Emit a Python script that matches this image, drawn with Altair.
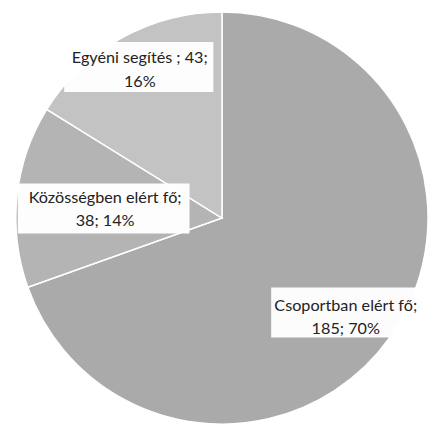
import altair as alt
import pandas as pd

# --- data ---
categories = ["Csoportban elért fő", "Közösségben elért fő", "Egyéni segítés "]
values = [185, 38, 43]
colors = ["#aaaaaa", "#b4b4b4", "#c3c3c3"]
break_after_value = [False, False, True]

# --- layout (not data) ---
label_radius_frac = [0.77, 0.57, 0.82]
text_dx = [-6, 0, 0]
text_dy = [8.5, 4, 0]
box_width = [170, 175, 152]
box_dx = [3, -1.5, -1]
box_dy = [3, 3, -3.5]
CX, CY, R = 218, 210, 210
BOX_H = 51
LINE_H = 24

total = sum(values)
labels = []
for c, v, b in zip(categories, values, break_after_value):
    pct = round(v / total * 100)
    if b:
        labels.append(f"{c}; {v};\n{pct}%")
    else:
        labels.append(f"{c};\n{v}; {pct}%")

df = pd.DataFrame({
    "cat": categories,
    "value": values,
    "idx": list(range(len(values))),
    "label": labels,
    "rf": label_radius_frac,
    "tdx": text_dx,
    "tdy": text_dy,
    "bw": box_width,
    "bdx": box_dx,
    "bdy": box_dy,
})

base = alt.Chart(df)

pie = base.mark_arc(outerRadius=R, stroke="white", strokeWidth=1.5).encode(
    theta=alt.Theta("value:Q", stack=True),
    order=alt.Order("idx:Q", sort="ascending"),
    color=alt.Color("cat:N", scale=alt.Scale(domain=categories, range=colors), legend=None),
    x=alt.value(CX),
    y=alt.value(CY),
)

pos = (
    base.transform_joinaggregate(total="sum(value)")
    .transform_window(cum="sum(value)", sort=[alt.SortField("idx", order="ascending")], frame=[None, 0])
    .transform_calculate(mid="2*PI*(datum.cum - datum.value/2)/datum.total")
    .transform_calculate(
        lx=f"{CX} + datum.rf*{R}*sin(datum.mid)",
        ly=f"{CY} - datum.rf*{R}*cos(datum.mid)",
    )
    .transform_calculate(
        tx="datum.lx + datum.tdx",
        ty=f"datum.ly + datum.tdy - {LINE_H}/2",
        bx1="datum.lx + datum.bdx - datum.bw/2",
        bx2="datum.lx + datum.bdx + datum.bw/2",
        by1=f"datum.ly + datum.bdy - {BOX_H}/2",
        by2=f"datum.ly + datum.bdy + {BOX_H}/2",
    )
)

boxes = pos.mark_rect(fill="white", opacity=0.97).encode(
    x=alt.X("bx1:Q", scale=None),
    x2="bx2:Q",
    y=alt.Y("by1:Q", scale=None),
    y2="by2:Q",
)

texts = pos.mark_text(
    font="Lato", fontSize=16.5, color="#222222", lineBreak="\n", lineHeight=LINE_H,
    align="center", baseline="middle",
).encode(
    x=alt.X("tx:Q", scale=None),
    y=alt.Y("ty:Q", scale=None),
    text="label:N",
)

chart = alt.layer(pie, boxes, texts).properties(
    width=430, height=423,
    autosize=alt.AutoSizeParams(type="none"),
    padding=0,
    background="white",
).configure_view(stroke=None)

chart.save("out.html", embed_options={"renderer": "svg", "actions": False})
